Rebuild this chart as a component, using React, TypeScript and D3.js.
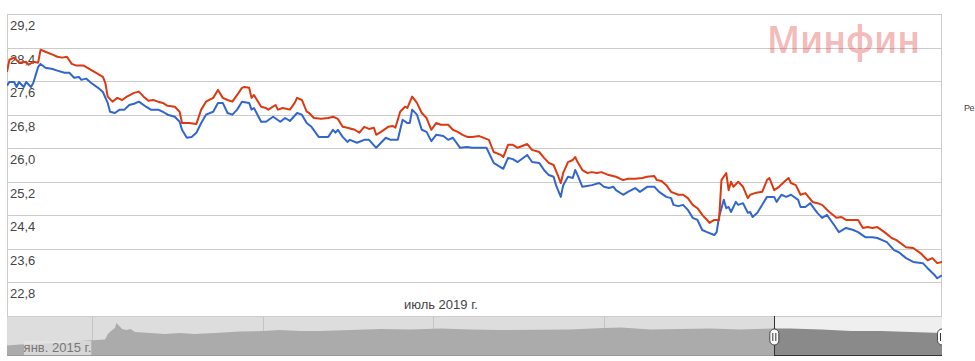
import React from 'react';
import * as d3 from 'd3';

const yTicks = [29.2, 28.4, 27.6, 26.8, 26.0, 25.2, 24.4, 23.6, 22.8];
const xTickDays = [181];
const xTickLabels = ['июль 2019 г.'];

const sellSeries: [number, number][] = [
  [0,27.82],[1,28.11],[3,28.16],[5,28.04],[8,28.06],[9,27.99],[11,28.06],[13,28.04],[14,28.35],[16,28.30],
  [19,28.23],[21,28.18],[23,28.16],[25,28.18],[27,28.01],[29,27.97],[32,27.97],[35,27.87],[37,27.80],[40,27.70],
  [41,27.56],[42,27.23],[44,27.11],[46,27.20],[48,27.15],[50,27.23],[53,27.32],[55,27.35],[57,27.23],[59,27.13],
  [61,27.15],[63,27.11],[65,27.08],[67,27.01],[70,26.99],[72,26.87],[73,26.60],[76,26.60],[79,26.58],[81,26.92],
  [83,27.11],[86,27.20],[88,27.39],[90,27.20],[92,27.15],[94,27.11],[96,27.27],[98,27.44],[99,27.46],[101,27.44],
  [102,27.20],[103,27.27],[106,26.99],[108,26.96],[109,26.92],[112,27.03],[113,26.92],[115,26.96],[118,26.92],[120,27.08],
  [121,27.20],[123,27.15],[125,26.87],[126,26.84],[128,26.72],[131,26.70],[134,26.72],[136,26.75],[138,26.70],[140,26.51],
  [142,26.49],[145,26.44],[147,26.37],[149,26.51],[151,26.46],[153,26.49],[154,26.32],[156,26.39],[159,26.51],[161,26.53],
  [162,26.49],[164,26.87],[166,26.99],[167,26.96],[169,27.23],[171,27.08],[173,26.84],[175,26.72],[177,26.44],[179,26.60],
  [181,26.56],[184,26.56],[186,26.44],[188,26.39],[190,26.32],[192,26.27],[194,26.27],[197,26.29],[201,26.20],[203,25.91],
  [206,25.84],[207,25.79],[209,26.08],[211,26.08],[213,26.01],[217,26.10],[219,25.96],[222,25.91],[224,25.77],[226,25.65],
  [228,25.60],[230,25.32],[231,25.17],[232,25.41],[234,25.67],[236,25.72],[237,25.79],[238,25.67],[240,25.48],[242,25.41],
  [244,25.43],[246,25.41],[248,25.43],[251,25.36],[254,25.32],[257,25.24],[259,25.27],[262,25.27],[265,25.29],[267,25.32],
  [270,25.34],[271,25.24],[273,25.22],[275,25.12],[277,24.96],[280,24.89],[282,24.89],[284,24.81],[286,24.65],[288,24.57],
  [290,24.41],[292,24.29],[293,24.22],[295,24.29],[297,24.29],[298,25.24],[300,25.41],[301,25.00],[302,25.20],[303,25.08],
  [305,25.20],[307,25.08],[309,24.81],[310,24.89],[312,24.93],[315,24.96],[317,25.24],[318,25.29],[320,25.00],[322,25.08],
  [325,25.24],[326,25.29],[327,25.17],[329,25.12],[331,24.89],[333,24.93],[336,24.72],[338,24.69],[340,24.65],[343,24.48],
  [346,24.34],[348,24.36],[350,24.29],[353,24.29],[355,24.29],[357,24.10],[359,24.12],[361,24.10],[363,24.12],[366,24.00],
  [369,23.86],[371,23.81],[375,23.64],[378,23.62],[381,23.50],[384,23.33],[386,23.38],[388,23.26],[390,23.29]
];

const buySeries: [number, number][] = [
  [0,27.49],[1,27.58],[3,27.58],[4,27.46],[5,27.58],[7,27.46],[8,27.58],[10,27.46],[11,27.56],[13,27.94],
  [14,28.01],[16,27.92],[19,27.89],[21,27.85],[24,27.80],[26,27.80],[28,27.68],[30,27.70],[31,27.63],[33,27.66],
  [35,27.56],[38,27.44],[40,27.34],[42,27.08],[43,26.87],[45,26.84],[47,26.92],[49,26.92],[51,27.03],[53,27.06],
  [55,27.11],[58,26.99],[60,26.92],[63,26.92],[65,26.87],[67,26.80],[70,26.75],[72,26.63],[73,26.44],[75,26.25],
  [77,26.27],[79,26.37],[81,26.60],[83,26.80],[86,26.87],[88,27.08],[90,27.08],[92,26.84],[94,26.80],[96,26.92],
  [98,27.11],[101,27.08],[102,26.92],[103,26.96],[106,26.63],[108,26.63],[111,26.75],[114,26.63],[116,26.72],[118,26.65],
  [121,26.84],[123,26.80],[125,26.60],[127,26.51],[130,26.27],[134,26.27],[136,26.44],[137,26.37],[138,26.44],[140,26.27],
  [142,26.15],[143,26.20],[146,26.13],[149,26.20],[151,26.20],[154,26.01],[156,26.13],[158,26.25],[160,26.20],[163,26.20],
  [165,26.68],[167,26.60],[168,26.60],[169,26.92],[171,26.80],[173,26.44],[175,26.39],[177,26.17],[179,26.32],[182,26.29],
  [184,26.20],[186,26.25],[189,26.01],[192,26.03],[194,26.01],[197,26.01],[200,26.01],[203,25.65],[207,25.51],[209,25.77],
  [211,25.74],[213,25.67],[217,25.84],[219,25.67],[222,25.65],[224,25.48],[226,25.36],[228,25.32],[229,25.12],[231,24.84],
  [232,25.12],[234,25.32],[236,25.29],[237,25.48],[238,25.36],[240,25.08],[242,25.10],[244,25.12],[247,25.17],[249,25.08],
  [251,25.05],[253,25.08],[254,25.00],[257,24.89],[259,24.96],[262,25.05],[264,24.96],[267,25.08],[270,25.08],[272,24.96],
  [275,24.84],[277,24.81],[278,24.65],[280,24.62],[282,24.65],[284,24.53],[286,24.34],[288,24.29],[290,24.05],[292,24.00],
  [295,23.93],[296,24.00],[297,24.36],[299,24.77],[300,24.57],[301,24.60],[302,24.48],[304,24.72],[305,24.65],[307,24.69],
  [309,24.46],[310,24.48],[311,24.36],[313,24.46],[315,24.65],[317,24.84],[320,24.84],[321,24.72],[323,24.89],[325,24.84],
  [327,24.89],[330,24.77],[331,24.60],[333,24.60],[335,24.69],[338,24.46],[340,24.34],[342,24.41],[345,24.17],[347,24.00],
  [350,24.10],[353,24.05],[355,24.00],[358,23.88],[361,23.88],[363,23.86],[367,23.76],[370,23.57],[372,23.52],[375,23.38],
  [378,23.29],[382,23.26],[384,23.14],[387,22.97],[388,22.90],[390,22.97]
];

const navMonths = [0,0.9,2,3,4.1,5.1,6,6.9,7.1,7.4,7.6,7.7,7.9,8.1,8.4,8.7,9,10.1,11.1,12.2,13.2,14.6,16.4,18,19.2,20.6,22,24.2,26.3,28.4,30.5,32.6,34.7,37.5,39.6,42,43.2,45.3,47.4,49.5,51.6,54,55.1,57.3,59.4,61.5,63.6,65.8];
const navRates = [10.5,11.5,12,12.8,13,15,15.8,16.5,22,26,28,33,30,27,26,27,24,23,22,23,22,23,24.5,25,26,25,25,26,27,26.5,27.5,26.5,26,26.3,26.5,28,28.5,26.5,27,27.5,26.5,27.5,27.5,26.5,25,25,24,23];
const navGridMonths = [6, 18, 30, 42];
const navLabelMonth = 6;
const navLabel = 'янв. 2015 г.';
const selectionMonths = [54, 65.8];
const watermark = 'Минфин';
const legendStub = 'Ре';

const FONT = '"Liberation Sans", Arial, sans-serif';

export default function App() {
  const W = 975, H = 361;
  const left = 7, right = 942, top = 14, bottom = 316;
  const navTop = 316, navBottom = 356;

  const x = d3.scaleLinear().domain([0, 390]).range([left, right]);
  const y = d3.scaleLinear().domain([22.0, 29.2]).range([bottom, top]);
  const line = d3.line<[number, number]>().x(d => x(d[0])).y(d => y(d[1]));

  const nx = d3.scaleLinear().domain([0, 65.8]).range([left, right]);
  const ny = d3.scaleLinear().domain([0, 40]).range([navBottom, navTop]);
  const area = d3.area<number>()
    .x((_, i) => nx(navMonths[i]))
    .y0(navBottom)
    .y1(d => ny(d));
  const navPath = area(navRates) || '';
  const s0 = nx(selectionMonths[0]);
  const s1 = nx(selectionMonths[1]);
  const fmt = (v: number) => d3.format('.1f')(v).replace('.', ',');

  const handle = (hx: number, key: string) => (
    <g key={key}>
      <line x1={Math.round(hx) + 0.5} x2={Math.round(hx) + 0.5} y1={navTop} y2={navBottom} stroke="#333" strokeWidth={1} />
      <rect x={hx - 4.5} y={navTop + 13} width={9} height={16} rx={4.5} fill="#fff" stroke="#444" strokeWidth={1} />
      <line x1={hx - 1.5} x2={hx - 1.5} y1={navTop + 17} y2={navTop + 25} stroke="#333" strokeWidth={1} />
      <line x1={hx + 1.5} x2={hx + 1.5} y1={navTop + 17} y2={navTop + 25} stroke="#333" strokeWidth={1} />
    </g>
  );

  return (
    <svg width={W} height={H} style={{ position: 'absolute', left: 0, top: 0, background: '#fff' }} fontFamily={FONT}>
      <defs>
        <clipPath id="plotClip"><rect x={left} y={top} width={right - left} height={bottom - top} /></clipPath>
        <clipPath id="navUnsel"><rect x={left} y={navTop} width={s0 - left} height={navBottom - navTop} /></clipPath>
        <clipPath id="navSel"><rect x={s0} y={navTop} width={s1 - s0} height={navBottom - navTop} /></clipPath>
        <clipPath id="navAll"><rect x={0} y={navTop - 2} width={right} height={navBottom - navTop + 6} /></clipPath>
      </defs>

      {/* grid */}
      {yTicks.map(t => (
        <line key={'g' + t} x1={left} x2={right} y1={Math.round(y(t)) + 0.5} y2={Math.round(y(t)) + 0.5} stroke="#cccccc" strokeWidth={1} />
      ))}
      <line x1={left + 0.5} x2={left + 0.5} y1={top} y2={bottom} stroke="#cccccc" />
      <line x1={right - 0.5} x2={right - 0.5} y1={top} y2={bottom} stroke="#cccccc" />

      {/* watermark */}
      <text x={767} y={53} fontFamily='"Noto Sans", sans-serif' fontWeight={600} fontSize={37}
        fill="rgba(220,40,40,0.33)" textLength={153} lengthAdjust="spacingAndGlyphs">{watermark}</text>

      {/* y labels */}
      {yTicks.map(t => (
        <text key={'l' + t} x={10} y={Math.round(y(t)) + 16} fontSize={13} fill="#444">{fmt(t)}</text>
      ))}

      {/* x labels */}
      {xTickDays.map((d, i) => (
        <text key={'x' + d} x={x(d)} y={309} fontSize={13} fill="#444" textAnchor="middle">{xTickLabels[i]}</text>
      ))}

      {/* lines */}
      <g clipPath="url(#plotClip)">
        <path d={line(buySeries) || ''} fill="none" stroke="#3366cc" strokeWidth={2} strokeLinejoin="round" />
        <path d={line(sellSeries) || ''} fill="none" stroke="#dc3912" strokeWidth={2} strokeLinejoin="round" />
      </g>

      {/* navigator */}
      <g clipPath="url(#navAll)">
        <rect x={left} y={navTop} width={s0 - left} height={navBottom - navTop} fill="#dddddd" />
        <rect x={s0} y={navTop} width={s1 - s0} height={navBottom - navTop} fill="#efefef" />
        {navGridMonths.map(m => (
          <line key={'ng' + m} x1={Math.round(nx(m)) + 0.5} x2={Math.round(nx(m)) + 0.5} y1={navTop} y2={navBottom} stroke="#c4c4c4" />
        ))}
        <path d={navPath} fill="#ababab" clipPath="url(#navUnsel)" />
        <path d={navPath} fill="#8a8a8a" clipPath="url(#navSel)" />
        <line x1={left} x2={s0} y1={navBottom - 0.5} y2={navBottom - 0.5} stroke="#999" />
        <line x1={s0} x2={s1} y1={navBottom - 0.5} y2={navBottom - 0.5} stroke="#333" />
        <line x1={left} x2={right} y1={navTop + 0.5} y2={navTop + 0.5} stroke="#cccccc" />
        <rect x={24} y={341} width={nx(navLabelMonth) - 25} height={14} fill="rgba(228,228,228,0.75)" />
        <text x={nx(navLabelMonth) - 1} y={352} fontSize={13} fill="#777" textAnchor="end">{navLabel}</text>
        {handle(s0, 'h0')}
        {handle(s1, 'h1')}
      </g>

      {/* legend stub */}
      <text x={964} y={111} fontSize={9} fill="#444">{legendStub}</text>
    </svg>
  );
}
